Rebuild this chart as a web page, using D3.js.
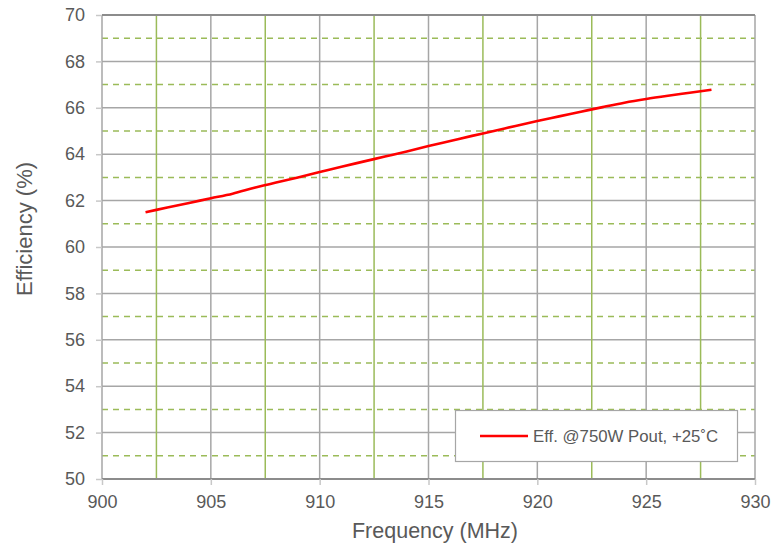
<!DOCTYPE html>
<html><head><meta charset="utf-8">
<script src="https://cdn.jsdelivr.net/npm/d3@7"></script>
<style>body{margin:0;background:#fff;}svg{display:block;font-family:Arial,"Liberation Sans",sans-serif;}</style>
</head><body>
<svg id="c" width="773" height="545"></svg>
<script>
const freq = [902,903,904,905,906,907,908,909,910,911,912,913,914,915,916,917,918,919,920,921,922,923,924,925,926,927,928];
const eff  = [61.5,61.7,61.9,62.1,62.3,62.55,62.78,63.0,63.23,63.46,63.68,63.9,64.12,64.35,64.57,64.79,65.0,65.22,65.43,65.63,65.83,66.03,66.22,66.38,66.52,66.65,66.78];
const xTicks = [900,905,910,915,920,925,930];
const yTicks = [50,52,54,56,58,60,62,64,66,68,70];
const xMinor = [902.5,907.5,912.5,917.5,922.5,927.5];
const yMinor = [51,53,55,57,59,61,63,65,67,69];
const seriesName = "Eff. @750W Pout, +25\u02DAC";

const svg = d3.select("#c");
const L=102, R=755, T=15, B=479;
const x = d3.scaleLinear().domain([900,930]).range([L,R]);
const y = d3.scaleLinear().domain([50,70]).range([B,T]);
const g = svg.append("g");
const major="#a6a6a6", green="#9bbb59", txt="#595959";

g.selectAll(".hm").data(yMinor).join("line")
 .attr("x1",L).attr("x2",R).attr("y1",d=>y(d)).attr("y2",d=>y(d))
 .attr("stroke",green).attr("stroke-width",1.5).attr("stroke-dasharray","6,5");
g.selectAll(".hM").data(yTicks).join("line")
 .attr("x1",L).attr("x2",R).attr("y1",d=>y(d)).attr("y2",d=>y(d))
 .attr("stroke",major).attr("stroke-width",1.5);
g.selectAll(".vM").data(xTicks).join("line")
 .attr("x1",d=>x(d)).attr("x2",d=>x(d)).attr("y1",T).attr("y2",B)
 .attr("stroke",major).attr("stroke-width",1.5);
g.selectAll(".vm").data(xMinor).join("line")
 .attr("x1",d=>x(d)).attr("x2",d=>x(d)).attr("y1",T).attr("y2",B)
 .attr("stroke",green).attr("stroke-width",1.5);
[50,70].forEach(v=>{
 g.append("line").attr("x1",L).attr("x2",R).attr("y1",y(v)).attr("y2",y(v))
  .attr("stroke","#8c8c8c").attr("stroke-width",2.2);
});

const xAxis = svg.append("g").attr("transform",`translate(0,${B})`)
 .call(d3.axisBottom(x).tickValues(xTicks).tickSize(6).tickPadding(5).tickFormat(d3.format("d")));
const yAxis = svg.append("g").attr("transform",`translate(${L},0)`)
 .call(d3.axisLeft(y).tickValues(yTicks).tickSize(6).tickPadding(11).tickFormat(d3.format("d")));
[xAxis,yAxis].forEach(a=>{
 a.select(".domain").remove();
 a.selectAll(".tick line").attr("stroke","#c8c8c8").attr("stroke-width",1.5);
 a.selectAll(".tick text").attr("fill",txt).attr("font-size",18).attr("font-family","Arial,'Liberation Sans',sans-serif");
});
xAxis.selectAll(".tick text").attr("dy","1.0em");

svg.append("path").datum(freq.map((f,i)=>[f,eff[i]]))
 .attr("fill","none").attr("stroke","#ff0000").attr("stroke-width",2.6)
 .attr("d",d3.line().x(d=>x(d[0])).y(d=>y(d[1])).curve(d3.curveMonotoneX));

const lg = svg.append("g");
lg.append("rect").attr("x",455.5).attr("y",410.5).attr("width",282).attr("height",51)
 .attr("fill","#fff").attr("stroke","#a6a6a6").attr("stroke-width",1.2);
lg.append("line").attr("x1",480).attr("x2",528).attr("y1",436).attr("y2",436)
 .attr("stroke","#ff0000").attr("stroke-width",2.6);
lg.append("text").attr("x",533).attr("y",442).attr("fill",txt).attr("font-size",16.8).text(seriesName);

svg.append("text").attr("x",435).attr("y",538).attr("text-anchor","middle")
 .attr("fill",txt).attr("font-size",21.5).text("Frequency (MHz)");
svg.append("text").attr("transform",`translate(32,229) rotate(-90)`).attr("text-anchor","middle")
 .attr("fill",txt).attr("font-size",22).text("Efficiency (%)");
</script>
</body></html>
